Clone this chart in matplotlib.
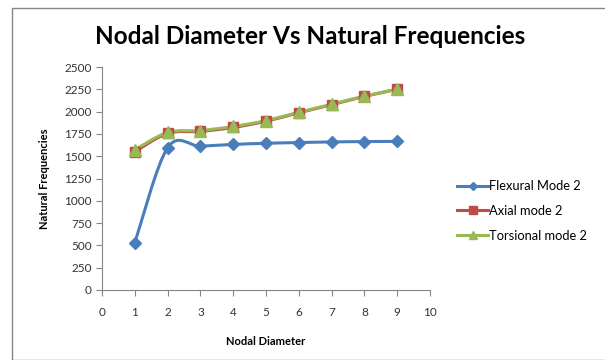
import matplotlib
matplotlib.use("Agg")
import matplotlib.pyplot as plt
import numpy as np
from matplotlib.path import Path
from matplotlib.patches import PathPatch, Rectangle
from matplotlib.lines import Line2D

nodal_diameter = [1, 2, 3, 4, 5, 6, 7, 8, 9]
flexural = [530, 1595, 1612, 1632, 1645, 1653, 1660, 1664, 1666]
axial = [1550, 1755, 1778, 1822, 1892, 1987, 2077, 2170, 2250]
torsional = [1572, 1766, 1788, 1833, 1900, 1993, 2082, 2174, 2250]

x_ticks = list(range(0, 11))
y_ticks = list(range(0, 2501, 250))

BLUE = "#4A7EBB"
RED = "#BE4B48"
GREEN = "#98B954"

plt.rcParams['font.family'] = ['Lato', 'DejaVu Sans']

fig = plt.figure(figsize=(6.05, 3.6), dpi=100)
fig.patches.append(Rectangle((12/605, 0), 1.0, 1 - 8/360, transform=fig.transFigure,
                             fill=False, edgecolor="#868686", linewidth=1.0))

ax = fig.add_axes([102/605, 70/360, (430-102)/605, (290-67)/360])


def smooth_path(xs, ys):
    P = np.column_stack([xs, ys]).astype(float)
    n = len(P)
    verts = [P[0]]
    codes = [Path.MOVETO]
    for i in range(n - 1):
        p0 = P[i - 1] if i > 0 else P[i]
        p1 = P[i]
        p2 = P[i + 1]
        p3 = P[i + 2] if i + 2 < n else P[i + 1]
        c1 = p1 + (p2 - p0) / 6.0
        c2 = p2 - (p3 - p1) / 6.0
        verts += [c1, c2, p2]
        codes += [Path.CURVE4] * 3
    return Path(verts, codes)


series = [
    (flexural, BLUE, "D", 6, "Flexural Mode 2"),
    (axial, RED, "s", 7.5, "Axial mode 2"),
    (torsional, GREEN, "^", 8, "Torsional mode 2"),
]
handles = []
for vals, col, mk, ms, lab in series:
    ax.add_patch(PathPatch(smooth_path(nodal_diameter, vals), fill=False,
                           edgecolor=col, linewidth=2.2, zorder=2))
    ax.plot(nodal_diameter, vals, linestyle="none", marker=mk, markersize=ms,
            color=col, markeredgecolor=col, zorder=3)
    handles.append(Line2D([], [], color=col, linewidth=2.2, marker=mk,
                          markersize=ms * 0.7, label=lab))

ax.set_xlim(0, 10)
ax.set_ylim(0, 2500)
ax.set_xticks(x_ticks)
ax.set_yticks(y_ticks)
for s in ["top", "right"]:
    ax.spines[s].set_visible(False)
for s in ["left", "bottom"]:
    ax.spines[s].set_color("#868686")
    ax.spines[s].set_linewidth(0.8)
ax.tick_params(axis="both", direction="out", length=4, width=0.8, color="#868686",
               labelsize=8.5, labelcolor="#333333")
ax.tick_params(axis="x", pad=8)

ax.set_xlabel("Nodal Diameter", fontsize=8, fontweight="bold", labelpad=13)
ax.set_ylabel("Natural Frequencies", fontsize=8, fontweight="bold", labelpad=10)

fig.text(310/605, 1 - 36/360, "Nodal Diameter Vs Natural Frequencies",
         fontsize=17.5, fontweight="bold", ha="center", va="center")

fig.legend(handles=handles, loc="center left", bbox_to_anchor=(452/605, 1 - 211/360),
           frameon=False, fontsize=9.3, handlelength=2.4, handletextpad=0.1,
           labelspacing=1.0, borderaxespad=0)

fig.savefig("out.png", dpi=100)
